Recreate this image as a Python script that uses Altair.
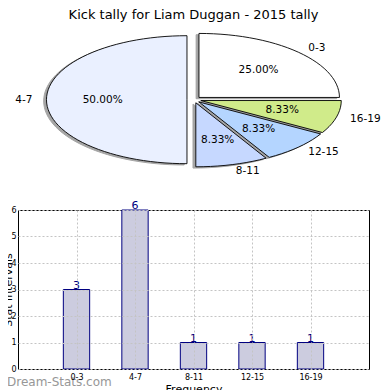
import math
import json
import altair as alt
import pandas as pd

# ---------------- data ----------------
title_text = "Kick tally for Liam Duggan - 2015 tally"
cats = ["0-3", "4-7", "8-11", "12-15", "16-19"]
counts = [3, 6, 1, 1, 1]
slice_colors = ["#ffffff", "#eaf0ff", "#c6d8ff", "#b4d5ff", "#d0eb8a"]
y_ticks = [0, 1, 2, 3, 4, 5, 6]
y_title = "Stat intervals"
x_title = "Frequency"
watermark = "Dream-Stats.com"

FONT = "DejaVu Sans"

# ---------------- pie geometry (derived from the counts) ----------------
EXPLODE = 0.05
LABEL_R = 1.1
PCT_R = 0.6
SHADOW = 0.02
STEPS = 120

total = sum(counts)
poly_rows, shadow_rows, lab_rows = [], [], []
start = 0.0
for c, v in zip(cats, counts):
    frac = v / total
    t1 = start * 360.0
    t2 = (start + frac) * 360.0
    mid = math.radians((t1 + t2) / 2)
    ox, oy = EXPLODE * math.cos(mid), EXPLODE * math.sin(mid)
    n = max(3, int(round(STEPS * frac)))
    pts = [(ox, oy)]
    for j in range(n + 1):
        a = math.radians(t1 + (t2 - t1) * j / n)
        pts.append((ox + math.cos(a), oy + math.sin(a)))
    pts.append((ox, oy))
    for k, (px, py) in enumerate(pts):
        poly_rows.append(dict(cat=c, k=k, px=px, py=py))
        shadow_rows.append(dict(cat=c, k=k, px=px - SHADOW, py=py - SHADOW))
    lx = ox + LABEL_R * math.cos(mid)
    ly = oy + LABEL_R * math.sin(mid)
    lab_rows.append(dict(cat=c, lx=lx, ly=ly, side="left" if lx > 0 else "right",
                         pct=f"{100 * frac:.2f}%",
                         tx=ox + PCT_R * math.cos(mid), ty=oy + PCT_R * math.sin(mid)))
    start += frac

poly_df = pd.DataFrame(poly_rows)
shadow_df = pd.DataFrame(shadow_rows)
lab_df = pd.DataFrame(lab_rows)

PW, PH = 351, 162
xs = alt.Scale(domain=[-1.2527, 1.2456], nice=False, zero=False)
ys = alt.Scale(domain=[-1.4109, 1.1203], nice=False, zero=False)

shadow = alt.Chart(shadow_df).mark_line(
    fill="#4d4d4d", stroke="#4d4d4d", opacity=0.5, strokeWidth=1
).encode(
    x=alt.X("px:Q", scale=xs, axis=None),
    y=alt.Y("py:Q", scale=ys, axis=None),
    detail="cat:N",
    order="k:Q",
)

slices = alt.Chart(poly_df).mark_line(stroke="black", strokeWidth=0.9, strokeJoin="miter").encode(
    x=alt.X("px:Q", scale=xs, axis=None),
    y=alt.Y("py:Q", scale=ys, axis=None),
    fill=alt.Fill("cat:N", scale=alt.Scale(domain=cats, range=slice_colors), legend=None),
    detail="cat:N",
    order="k:Q",
)

LFS = 10.5
lab_left = alt.Chart(lab_df).transform_filter("datum.side == 'left'").mark_text(
    align="left", baseline="middle", font=FONT, fontSize=LFS, color="black"
).encode(x=alt.X("lx:Q", scale=xs, axis=None), y=alt.Y("ly:Q", scale=ys, axis=None), text="cat:N")

lab_right = alt.Chart(lab_df).transform_filter("datum.side == 'right'").mark_text(
    align="right", baseline="middle", font=FONT, fontSize=LFS, color="black"
).encode(x=alt.X("lx:Q", scale=xs, axis=None), y=alt.Y("ly:Q", scale=ys, axis=None), text="cat:N")

pct = alt.Chart(lab_df).mark_text(
    align="center", baseline="middle", font=FONT, fontSize=LFS, color="black"
).encode(x=alt.X("tx:Q", scale=xs, axis=None), y=alt.Y("ty:Q", scale=ys, axis=None), text="pct:N")

pie = alt.layer(shadow, slices, lab_left, lab_right, pct).properties(
    width=PW, height=PH,
    title=alt.Title(title_text, font=FONT, fontSize=13, fontWeight="normal",
                    anchor="middle", offset=6, color="black"),
    view=alt.ViewBackground(strokeOpacity=0),
)

# ---------------- bar chart ----------------
bar_df = pd.DataFrame({"cat": cats, "count": counts, "idx": list(range(len(cats)))})
label_expr = json.dumps(cats) + "[datum.value]"

bx = alt.Scale(domain=[-1, len(cats)], nice=False, zero=False)
by = alt.Scale(domain=[min(y_ticks), max(y_ticks)], nice=False)

grid_axis = dict(grid=True, gridColor="#c4c4c4", gridDash=[2, 2], gridWidth=1,
                 ticks=False, domain=False, labelFont=FONT, labelFontSize=8,
                 labelColor="black", titleFont=FONT, titleFontSize=11,
                 titleFontWeight="normal", titleColor="black", zindex=1,
                 labelOverlap=False)

x_axis = alt.Axis(values=list(range(len(cats))), labelExpr=label_expr,
                  title=x_title, labelPadding=4, titlePadding=2, **grid_axis)
y_axis = alt.Axis(values=y_ticks, title=y_title, labelPadding=2,
                  titleX=-6.5, titleBaseline="alphabetic", **grid_axis)

bars = alt.Chart(bar_df).transform_calculate(
    lo="datum.idx - 0.225", hi="datum.idx + 0.225"
).mark_bar(fill="#ccccdf", stroke="#000080", strokeWidth=1).encode(
    x=alt.X("lo:Q", scale=bx, axis=x_axis, title=x_title),
    x2="hi:Q",
    y=alt.Y("count:Q", scale=by, axis=y_axis, title=y_title),
    y2=alt.datum(0),
)

vals = alt.Chart(bar_df).mark_text(
    baseline="alphabetic", align="center", dy=-1, font=FONT, fontSize=11, color="#000080"
).encode(
    x=alt.X("idx:Q", scale=bx, axis=x_axis, title=x_title),
    y=alt.Y("count:Q", scale=by, axis=y_axis, title=y_title),
    text="count:Q",
)

wm = alt.Chart(pd.DataFrame({"t": [watermark]})).mark_text(
    align="left", baseline="middle", font=FONT, fontSize=12, color="#8c8c8c", opacity=0.9
).encode(x=alt.value(-11), y=alt.value(172), text="t:N")

barchart = alt.layer(bars, vals, wm).properties(
    width=351, height=159,
    view=alt.ViewBackground(stroke="black", strokeWidth=1),
)

chart = alt.vconcat(pie, barchart, spacing=20, bounds="flush").properties(
    padding={"left": -6, "top": 1, "right": 0, "bottom": 0},
    autosize=alt.AutoSizeParams(type="pad"),
    background="white",
)

chart.save("out.html", embed_options={"renderer": "svg", "actions": False})
